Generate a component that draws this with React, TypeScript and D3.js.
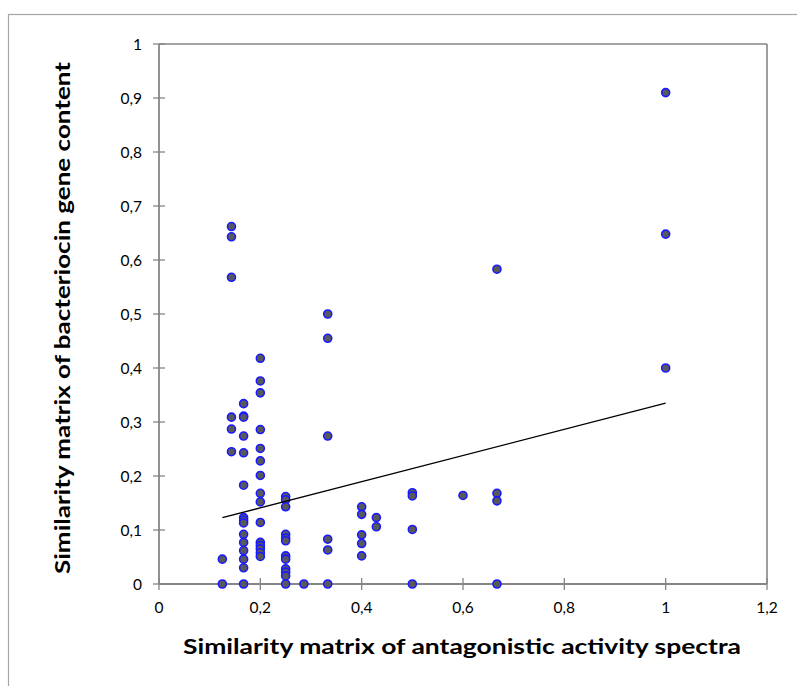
import React from "react";
import * as d3 from "d3";

// Data
const xValues: number[] = [
  0.125, 0.125,
  0.143, 0.143, 0.143, 0.143, 0.143, 0.143,
  0.167, 0.167, 0.167, 0.167, 0.167, 0.167, 0.167, 0.167, 0.167, 0.167, 0.167, 0.167, 0.167, 0.167, 0.167,
  0.2, 0.2, 0.2, 0.2, 0.2, 0.2, 0.2, 0.2, 0.2, 0.2, 0.2, 0.2, 0.2, 0.2, 0.2,
  0.25, 0.25, 0.25, 0.25, 0.25, 0.25, 0.25, 0.25, 0.25, 0.25, 0.25, 0.25,
  0.286,
  0.333, 0.333, 0.333, 0.333, 0.333, 0.333,
  0.4, 0.4, 0.4, 0.4, 0.4,
  0.429, 0.429,
  0.5, 0.5, 0.5, 0.5,
  0.6,
  0.667, 0.667, 0.667, 0.667,
  1, 1, 1,
];
const yValues: number[] = [
  0.046, 0,
  0.662, 0.643, 0.568, 0.309, 0.287, 0.245,
  0.334, 0.311, 0.309, 0.274, 0.243, 0.183, 0.123, 0.118, 0.113, 0.092, 0.077, 0.062, 0.046, 0.03, 0,
  0.418, 0.376, 0.354, 0.286, 0.251, 0.228, 0.201, 0.168, 0.152, 0.114, 0.077, 0.071, 0.065, 0.058, 0.051,
  0.162, 0.156, 0.143, 0.092, 0.085, 0.08, 0.052, 0.046, 0.028, 0.022, 0.015, 0,
  0,
  0.5, 0.455, 0.274, 0.083, 0.063, 0,
  0.143, 0.129, 0.091, 0.075, 0.052,
  0.123, 0.106,
  0.169, 0.163, 0.101, 0,
  0.164,
  0.583, 0.168, 0.154, 0,
  0.91, 0.648, 0.4,
];

// Linear trend line
const trendIntercept = 0.0925;
const trendSlope = 0.2425;
const trendXRange: [number, number] = [0.125, 1];

const xTicks: number[] = [0, 0.2, 0.4, 0.6, 0.8, 1, 1.2];
const xTickLabels: string[] = ["0", "0,2", "0,4", "0,6", "0,8", "1", "1,2"];
const yTicks: number[] = [0, 0.1, 0.2, 0.3, 0.4, 0.5, 0.6, 0.7, 0.8, 0.9, 1];
const yTickLabels: string[] = ["0", "0,1", "0,2", "0,3", "0,4", "0,5", "0,6", "0,7", "0,8", "0,9", "1"];

const xTitle = "Similarity matrix of antagonistic activity spectra";
const yTitle = "Similarity matrix of bacteriocin gene content";

const W = 797;
const H = 686;
const left = 159;
const right = 767;
const top = 44;
const bottom = 584;
const axisColor = "#868686";
const font = "Lato, 'Open Sans', sans-serif";

export default function App() {
  const x = d3.scaleLinear().domain([0, 1.2]).range([left, right]);
  const y = d3.scaleLinear().domain([0, 1]).range([bottom, top]);
  const line = d3
    .line<number>()
    .x((d) => x(d))
    .y((d) => y(trendIntercept + trendSlope * d));

  return (
    <svg
      width={W}
      height={H}
      style={{ position: "absolute", left: 0, top: 0, background: "#fff" }}
    >
      <rect x={W * 0 + 8.5} y={14.5} width={W} height={H} fill="#fff" stroke="#a6a6a6" strokeWidth={1.2} />
      {/* plot area border (top/right) */}
      <line x1={left} x2={right} y1={top} y2={top} stroke={axisColor} strokeWidth={1.6} />
      <line x1={right} x2={right} y1={top} y2={bottom} stroke={axisColor} strokeWidth={1.6} />
      {/* axes */}
      <line x1={left} x2={left} y1={top} y2={bottom} stroke={axisColor} strokeWidth={1.8} />
      <line x1={left} x2={right} y1={bottom} y2={bottom} stroke={axisColor} strokeWidth={1.8} />
      {yTicks.map((t, i) => (
        <g key={"yt" + i}>
          <line x1={left - 6} x2={left + 6} y1={y(t)} y2={y(t)} stroke={axisColor} strokeWidth={1.3} />
          <text
            x={142}
            y={y(t)}
            dy="0.36em"
            textAnchor="end"
            fontFamily={font}
            fontSize={15.5}
            fill="#000"
          >
            {yTickLabels[i]}
          </text>
        </g>
      ))}
      {xTicks.map((t, i) => (
        <g key={"xt" + i}>
          <line x1={x(t)} x2={x(t)} y1={bottom - 6} y2={bottom + 6} stroke={axisColor} strokeWidth={1.3} />
          <text
            x={x(t)}
            y={607}
            dy="0.36em"
            textAnchor="middle"
            fontFamily={font}
            fontSize={15.5}
            fill="#000"
          >
            {xTickLabels[i]}
          </text>
        </g>
      ))}
      {/* points */}
      {xValues.map((xv, i) => (
        <circle
          key={"p" + i}
          cx={x(xv)}
          cy={y(yValues[i])}
          r={4}
          fill="#595959"
          stroke="#1a1aff"
          strokeWidth={1.6}
        />
      ))}
      {/* trend line */}
      <path d={line(trendXRange) || ""} fill="none" stroke="#000" strokeWidth={1.3} />
      {/* titles */}
      <text
        x={462}
        y={654}
        textAnchor="middle"
        fontFamily={font}
        fontWeight="bold"
        fontSize={21}
        textLength={558}
        lengthAdjust="spacingAndGlyphs"
        fill="#000"
      >
        {xTitle}
      </text>
      <text
        transform={`translate(70, 318) rotate(-90)`}
        textAnchor="middle"
        fontFamily={font}
        fontWeight="bold"
        fontSize={21}
        textLength={512}
        lengthAdjust="spacingAndGlyphs"
        fill="#000"
      >
        {yTitle}
      </text>
    </svg>
  );
}
